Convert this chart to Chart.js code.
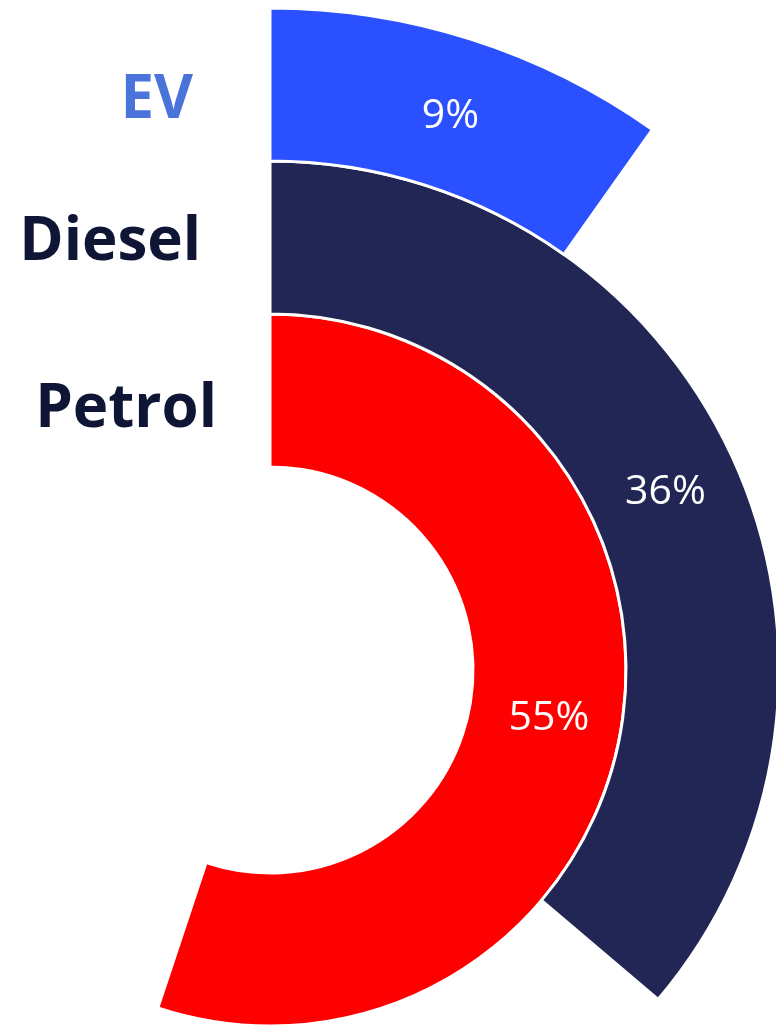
<!DOCTYPE html>
<html>
<head>
<meta charset="utf-8">
<script src="https://cdn.jsdelivr.net/npm/chart.js@4/dist/chart.umd.min.js"></script>
<style>
  html, body { margin: 0; padding: 0; background: #fff; overflow: hidden; width: 776px; height: 1029px; }
  #wrap { position: absolute; left: -400px; top: 0; width: 1340px; height: 1340px; }
</style>
</head>
<body>
<div id="wrap"><canvas id="fuelRings" width="1340" height="1340"></canvas></div>
<script>
// Fuel mix – outer ring first
const categories = ['EV', 'Diesel', 'Petrol'];
const shares = [9.8, 36.2, 55.1];          // arc sizes (% of full circle)
const shareText = ['9%', '36%', '55%'];    // printed labels
const ringColors = ['#2a50ff', '#212654', '#ff0000'];
const labelColors = ['#4a74da', '#0e1535', '#0e1535'];

// where the category names sit (page pixels: right edge, baseline)
const nameSpots = [[193, 118], [201, 260], [217, 427]];
const PAGE_X = 400; // canvas is shifted left by this much

const ringLabels = {
  id: 'ringLabels',
  afterDatasetsDraw(chart) {
    const c = chart.ctx;
    c.save();
    // percentage in each coloured arc
    c.fillStyle = '#ffffff';
    c.font = '41px "Open Sans", sans-serif';
    c.textAlign = 'center';
    c.textBaseline = 'middle';
    chart.data.datasets.forEach((ds, i) => {
      const arc = chart.getDatasetMeta(i).data[0];
      const p = arc.tooltipPosition();
      c.fillText(shareText[i], p.x + 3, p.y + 4);
    });
    // category names on the left
    c.font = 'bold 60px "Open Sans", sans-serif';
    c.textAlign = 'right';
    c.textBaseline = 'alphabetic';
    categories.forEach((name, i) => {
      c.fillStyle = labelColors[i];
      c.fillText(name, nameSpots[i][0] + PAGE_X, nameSpots[i][1]);
    });
    c.restore();
  }
};

new Chart(document.getElementById('fuelRings'), {
  type: 'doughnut',
  data: {
    labels: ['share', 'rest'],
    datasets: categories.map((name, i) => ({
      label: name,
      data: [shares[i], 100 - shares[i]],
      backgroundColor: [ringColors[i], 'rgba(0,0,0,0)'],
      borderColor: '#ffffff',
      borderWidth: [3, 0],
      hoverOffset: 0
    }))
  },
  options: {
    responsive: false,
    animation: false,
    events: [],
    radius: 662,
    cutout: 205,
    layout: { padding: 0 },
    plugins: { legend: { display: false }, tooltip: { enabled: false } }
  },
  plugins: [ringLabels]
});
</script>
</body>
</html>
